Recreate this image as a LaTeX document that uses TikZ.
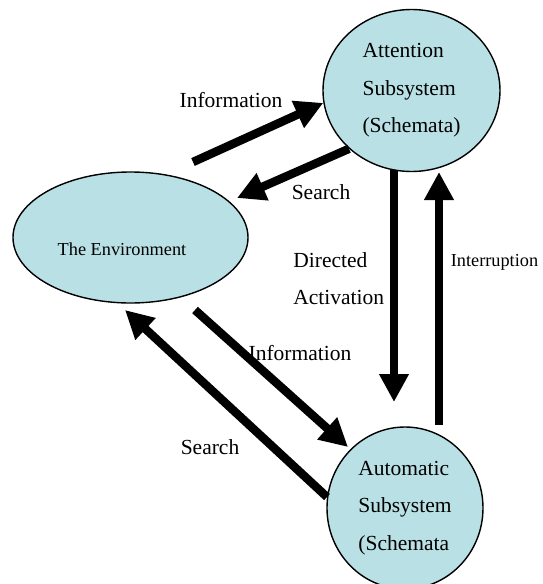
\documentclass[tikz,border=0pt]{standalone}
\usepackage{fontspec}
\setmainfont{Liberation Serif}
\usetikzlibrary{arrows.meta,shapes.geometric}
\definecolor{sysblue}{RGB}{185,224,228}
\begin{document}
\begin{tikzpicture}[x=0.5pt, y=-0.5pt,
  sys/.style={ellipse, draw, fill=sysblue, line width=0.7pt, inner sep=0pt,
    align=left, font=\fontsize{10.75}{18.75}\selectfont},
  flow/.style={-{Triangle[length=14pt,width=14pt]}, line width=4.25pt},
  lbl/.style={font=\fontsize{10.75}{18.5}\selectfont},
  small/.style={font=\fontsize{9.15}{11}\selectfont}]
\useasboundingbox (0,0) rectangle (542,584);
\clip (0,0) rectangle (542,584);

\node[sys, minimum width=88.5pt, minimum height=81pt] (att) at (411.5,90.5) {Attention\\Subsystem\\(Schemata)};
\node[sys, minimum width=78pt, minimum height=81pt] (aut) at (405,508) {Automatic\\Subsystem\\(Schemata};
\node[sys, minimum width=117.5pt, minimum height=65.5pt] (env) at (130.5,237.5) {};
\node[small] (envtext) at (122,249) {The Environment};

\coordinate (infoUp) at (193,162);
\coordinate (searchUp) at (237,198);
\coordinate (dirTop) at (394,170);
\coordinate (dirEnd) at (394,402);
\coordinate (intTop) at (439,172);
\coordinate (intEnd) at (439,425);
\coordinate (infoDown) at (195,310);
\coordinate (infoDownEnd) at (348,447);
\coordinate (searchDown) at (125,310);

\draw[flow] (infoUp) -- (att.188);
\draw[flow] (att.223) -- (searchUp);
\draw[flow] (dirTop) -- (dirEnd);
\draw[flow] (intEnd) -- (intTop);
\draw[flow] (infoDown) -- (infoDownEnd);
\draw[flow] (aut.172) -- (searchDown);

\node[lbl] (infoA) at (231,100) {Information};
\node[lbl] (searchA) at (321,192) {Search};
\node[lbl, align=left, anchor=west, inner sep=0pt] (directed) at (293,278.5) {Directed\\Activation};
\node[small] (interrupt) at (494.5,262) {Interruption};
\node[lbl] (infoB) at (300,353) {Information};
\node[lbl] (searchB) at (210,447) {Search};
\end{tikzpicture}
\end{document}
